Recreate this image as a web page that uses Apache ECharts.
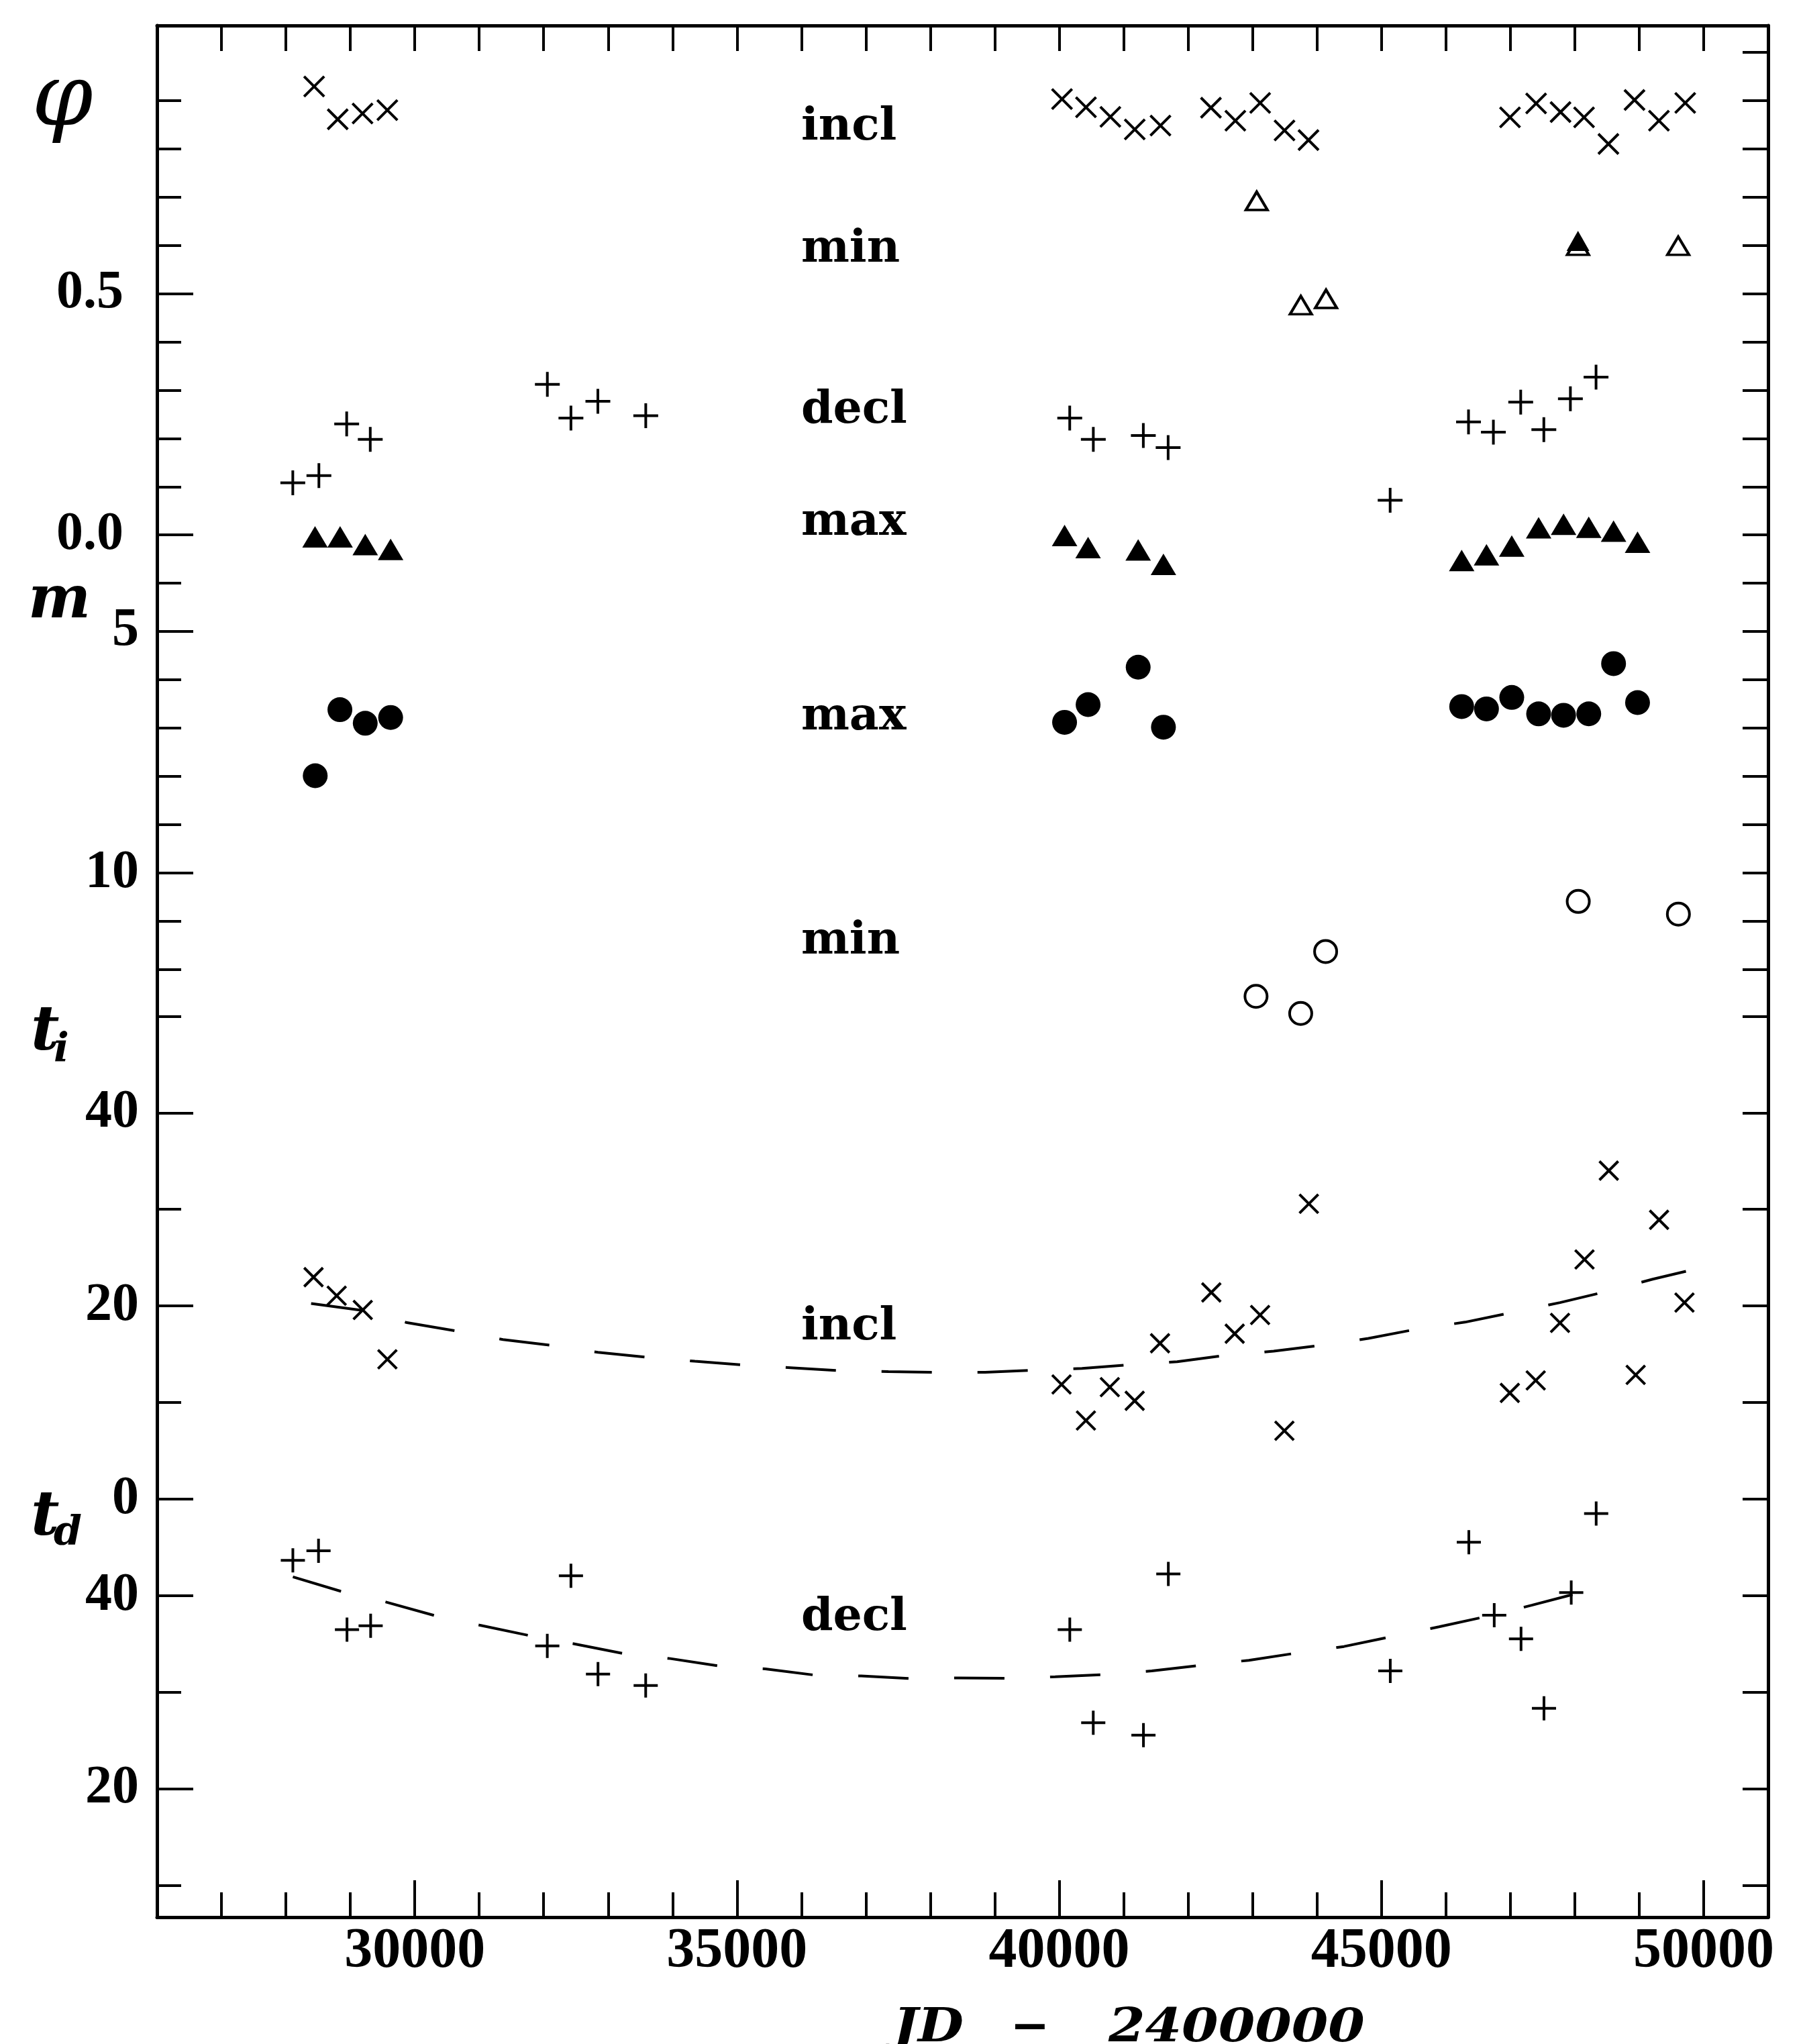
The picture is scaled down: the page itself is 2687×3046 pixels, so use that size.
<!DOCTYPE html>
<html><head><meta charset="utf-8">
<script src="https://cdn.jsdelivr.net/npm/echarts@6/dist/echarts.min.js"></script>
<style>html,body{margin:0;padding:0;background:#fff}#c{width:2687px;height:3046px}</style>
</head><body><div id="c"></div>
<script>
// ---------------- data (JD-2400000, value) ----------------
const phiIncl = [[28438,0.929],[28804,0.861],[29189,0.873],[29574,0.880],
  [40043,0.903],[40415,0.886],[40794,0.866],[41172,0.840],[41571,0.848],
  [42354,0.885],[42733,0.858],[43118,0.895],[43496,0.838],[43868,0.818],
  [46995,0.865],[47400,0.894],[47779,0.876],[48144,0.865],[48522,0.810],[48927,0.901],[49306,0.858],[49714,0.895]];
const phiMinOpen = [[43064,0.692],[43749,0.476],[44140,0.489],[48050,0.599],[49605,0.599]];
const phiMinFilled = [[48050,0.609]];
const phiDecl = [[28107,0.108],[28512,0.123],[28943,0.230],[29309,0.198],[32057,0.312],[32423,0.242],[32841,0.277],[33584,0.247],
  [40163,0.242],[40529,0.198],[41305,0.206],[41690,0.181],[45135,0.072],
  [46351,0.234],[46737,0.213],[47161,0.275],[47520,0.218],[47932,0.282],[48330,0.327]];
const phiMax = [[28452,-0.004],[28841,-0.004],[29231,-0.020],[29625,-0.030],
  [40083,-0.001],[40448,-0.026],[41225,-0.031],[41617,-0.061],
  [46245,-0.053],[46630,-0.041],[47022,-0.023],[47439,0.015],[47826,0.022],[48217,0.016],[48602,0.008],[48974,-0.015]];
const mMax = [[28455,7.986],[28838,6.621],[29231,6.901],[29625,6.782],
  [40083,6.882],[40448,6.515],[41225,5.742],[41617,6.982],
  [46245,6.556],[46630,6.604],[47022,6.367],[47439,6.707],[47826,6.736],[48217,6.706],[48602,5.668],[48974,6.474]];
const mMin = [[43054,12.549],[43747,12.903],[44134,11.621],[48054,10.586],[49608,10.847]];
const tiIncl = [[28429,22.98],[28788,21.06],[29193,19.59],[29575,14.48],
  [40036,11.87],[40414,8.14],[40785,11.60],[41171,10.18],[41564,16.14],
  [42360,21.40],[42723,17.13],[43117,19.07],[43494,7.08],[43874,30.58],
  [46992,11.00],[47394,12.29],[47771,18.25],[48151,24.82],[48528,34.01],[48945,12.86],[49308,28.92],[49702,20.35]];
const tiFit = [[28391,20.26],[29346,19.39],[29880,18.27],[30659,17.39],[31369,16.52],[32132,15.92],[32843,15.20],[33621,14.68],
  [34346,14.28],[35134,13.88],[35835,13.61],[36638,13.29],[37348,13.20],[38127,13.13],[38851,13.13],[39634,13.36],
  [40353,13.53],[41087,13.91],[41830,14.23],[42587,14.90],[43328,15.32],[44101,15.96],[44797,16.64],[45561,17.62],
  [46295,18.32],[47038,19.34],[47772,20.35],[48506,21.52],[49210,22.77],[49725,23.59]];
const tdDecl = [[28108,43.66],[28506,44.66],[28948,36.48],[29315,36.89],[32056,34.81],[32423,42.07],[32843,31.89],[33583,30.70],
  [40164,36.48],[40528,26.85],[41307,25.56],[41693,42.25],[45137,32.21],
  [46356,45.55],[46750,37.98],[47166,35.54],[47522,28.34],[47945,40.33],[48332,48.52]];
const tdFit = [[28108,41.95],[28849,40.47],[29552,39.35],[30300,37.96],[31002,36.96],[31774,35.88],[32476,35.01],[33240,34.01],
  [33964,33.49],[34752,32.69],[35439,32.42],[36203,31.78],[36928,31.69],[37729,31.41],[38432,31.49],[39180,31.44],
  [39937,31.60],[40717,31.84],[41436,32.21],[42208,32.81],[42942,33.31],[43670,34.05],[44418,34.74],[45175,35.79],
  [45894,36.78],[46750,38.03],[47332,39.02],[48112,40.38]];

// annotation texts [text, value on the panel axis]
const annPhi = [['incl',0.843],['min',0.590],['decl',0.256],['max',0.024]];
const annM = [['max',6.79],['min',11.43]];
const annTi = [['incl',17.71]];
const annTd = [['decl',37.67]];
const annJD = 36000;

// axis ranges (value at bottom, value at top of the frame)
const xRange = [26000, 51000];
const phiRange = [-2.8632, 1.0553];
const mRange = [-7.5285, 31.5917];   // inverse axis (min at top)
const tiRange = [-43.28, 152.57];
const tdRange = [6.70, 202.67];

// tick values
const xMajor = [30000, 35000, 40000, 45000, 50000];
const xMinor = [27000,28000,29000,31000,32000,33000,34000,36000,37000,38000,39000,41000,42000,43000,44000,46000,47000,48000,49000];
const xAll = [27000,28000,29000,30000,31000,32000,33000,34000,35000,36000,37000,38000,39000,40000,41000,42000,43000,44000,45000,46000,47000,48000,49000,50000];
const phiMajor = [0.0, 0.5];
const phiMinor = [-0.1, 0.1, 0.2, 0.3, 0.4, 0.6, 0.7, 0.8, 0.9];
const phiRight = [-0.1, 0.0, 0.1, 0.2, 0.3, 0.4, 0.5, 0.6, 0.7, 0.8, 0.9, 1.0];
const mMajor = [5, 10];
const mMinor = [6, 7, 8, 9, 11, 12];
const mRight = [5, 6, 7, 8, 9, 10, 11, 12];
const tiMajor = [0, 20, 40];
const tiMinor = [10, 30, 50];
const tiRight = [0, 10, 20, 30, 40, 50];
const tdMajor = [20, 40];
const tdMinor = [10, 30];
const tdRight = [10, 20, 30, 40];

// ---------------- chart ----------------
const TICKFONT = 'Liberation Serif';
const TEXTFONT = 'DejaVu Serif';
const LINE_W = 5, TICK_W = 4;

function yAx(o) {
  return {
    type: 'value', position: o.pos, min: o.range[0], max: o.range[1], inverse: !!o.inverse,
    axisLine: { show: !!o.line, onZero: false, lineStyle: { color: '#000', width: LINE_W } },
    axisTick: { show: true, inside: true, length: o.len, lineStyle: { color: '#000', width: TICK_W }, customValues: o.ticks },
    axisLabel: o.labels ? { show: true, customValues: o.labels, margin: o.margin, color: '#000',
      fontFamily: TICKFONT, fontWeight: 'bold', fontSize: 80, formatter: o.fmt } : { show: false },
    splitLine: { show: false }, splitArea: { show: false }
  };
}
function xAx(o) {
  return {
    type: 'value', position: o.pos, min: xRange[0], max: xRange[1],
    axisLine: { show: !!o.line, onZero: false, lineStyle: { color: '#000', width: LINE_W } },
    axisTick: { show: true, inside: true, length: o.len, lineStyle: { color: '#000', width: TICK_W }, customValues: o.ticks },
    axisLabel: o.labels ? { show: true, customValues: o.labels, margin: 10, color: '#000',
      fontFamily: TICKFONT, fontWeight: 'bold', fontSize: 84, formatter: v => String(v) } : { show: false },
    splitLine: { show: false }, splitArea: { show: false }
  };
}

const fmt1 = v => v.toFixed(1);
const fmt0 = v => String(Math.round(v));

const yAxes = [
  yAx({pos:'left', range:phiRange, line:true, ticks:phiMajor, len:54, labels:phiMajor, margin:50, fmt:fmt1}), //0
  yAx({pos:'left', range:phiRange, ticks:phiMinor, len:36}),                                                   //1
  yAx({pos:'left', range:mRange, inverse:true, ticks:mMajor, len:54, labels:mMajor, margin:27, fmt:fmt0}),     //2
  yAx({pos:'left', range:mRange, inverse:true, ticks:mMinor, len:36}),                                         //3
  yAx({pos:'left', range:tiRange, ticks:tiMajor, len:54, labels:tiMajor, margin:27, fmt:fmt0}),                //4
  yAx({pos:'left', range:tiRange, ticks:tiMinor, len:36}),                                                     //5
  yAx({pos:'left', range:tdRange, ticks:tdMajor, len:54, labels:tdMajor, margin:27, fmt:fmt0}),                //6
  yAx({pos:'left', range:tdRange, ticks:tdMinor, len:36}),                                                     //7
  yAx({pos:'right', range:phiRange, line:true, ticks:phiRight, len:38}),                                       //8
  yAx({pos:'right', range:mRange, inverse:true, ticks:mRight, len:38}),                                        //9
  yAx({pos:'right', range:tiRange, ticks:tiRight, len:38}),                                                    //10
  yAx({pos:'right', range:tdRange, ticks:tdRight, len:38})                                                     //11
];
const xAxes = [
  xAx({pos:'bottom', line:true, ticks:xMajor, len:55, labels:xMajor}),
  xAx({pos:'bottom', ticks:xMinor, len:37}),
  xAx({pos:'top', line:true, ticks:xAll, len:38})
];

const CROSS = 'path://M0,0L10,10M10,0L0,10';
const PLUS = 'path://M5,0L5,10M0,5L10,5';
const stroke = { color: 'transparent', borderColor: '#000', borderWidth: 4, opacity: 1 };

function sc(data, yi, symbol, size, itemStyle) {
  return { type: 'scatter', xAxisIndex: 0, yAxisIndex: yi, data: data, symbol: symbol, symbolSize: size,
    itemStyle: Object.assign({ opacity: 1 }, itemStyle), silent: true, z: 3 };
}
function fit(data, yi) {
  return { type: 'line', xAxisIndex: 0, yAxisIndex: yi, data: data, showSymbol: false, symbol: 'none', smooth: false,
    lineStyle: { color: '#000', width: 4, type: [75, 68], opacity: 1 }, silent: true, z: 2 };
}
function ann(list, yi) {
  return { type: 'scatter', xAxisIndex: 0, yAxisIndex: yi, symbolSize: 1, itemStyle: { color: 'transparent', opacity: 1 },
    data: list.map(a => ({ name: a[0], value: [annJD, a[1]] })), silent: true,
    label: { show: true, position: [0, 0], align: 'left', verticalAlign: 'middle', formatter: '{b}',
      color: '#000', opacity: 1, fontFamily: TEXTFONT, fontWeight: 'bold', fontSize: 68 } };
}

function txt(x, y, text, font, align, extra) {
  return Object.assign({ type: 'text', x: x, y: y, style: { text: text, font: font, fill: '#000',
    align: align, verticalAlign: 'middle', textAlign: align, textVerticalAlign: 'middle' } }, extra || {});
}

const option = {
  animation: false,
  backgroundColor: '#fff',
  grid: { left: 234, top: 38, width: 2401, height: 2819, containLabel: false },
  xAxis: xAxes,
  yAxis: yAxes,
  series: [
    sc(phiIncl, 0, CROSS, 30, stroke),
    sc(phiMinOpen, 0, 'triangle', [32, 27], { color: '#fff', borderColor: '#000', borderWidth: 4 }),
    sc(phiMinFilled, 0, 'triangle', [34, 30], { color: '#000' }),
    sc(phiDecl, 0, PLUS, 37, stroke),
    sc(phiMax, 0, 'triangle', [38, 32], { color: '#000' }),
    sc(mMax, 2, 'circle', 37, { color: '#000' }),
    sc(mMin, 2, 'circle', 33, { color: '#fff', borderColor: '#000', borderWidth: 4 }),
    sc(tiIncl, 4, CROSS, 28, stroke),
    fit(tiFit, 4),
    sc(tdDecl, 6, PLUS, 36, stroke),
    fit(tdFit, 6),
    ann(annPhi, 0), ann(annM, 2), ann(annTi, 4), ann(annTd, 6)
  ],
  graphic: [
    txt(93, 152, 'φ', 'italic 130px "DejaVu Serif"', 'center'),
    txt(42, 897, 'm', 'italic bold 88px "DejaVu Serif"', 'left'),
    txt(46, 1540, 't', 'italic bold 92px "DejaVu Serif"', 'left'),
    txt(80, 1566, 'i', 'italic bold 60px "DejaVu Serif"', 'left'),
    txt(46, 2263, 't', 'italic bold 92px "DejaVu Serif"', 'left'),
    txt(80, 2286, 'd', 'italic bold 60px "DejaVu Serif"', 'left'),
    txt(1331, 3024, 'JD', 'italic bold 70px "DejaVu Serif"', 'left', { scaleX: 1.12 }),
    txt(1535, 3024, '−', 'italic bold 70px "DejaVu Serif"', 'center', { scaleX: 1.0 }),
    txt(1652, 3024, '2400000', 'italic bold 70px "DejaVu Serif"', 'left', { scaleX: 1.12 })
  ]
};

const chart = echarts.init(document.getElementById('c'), null, { renderer: 'canvas', width: 2687, height: 3046 });
chart.setOption(option);
</script>
</body></html>
